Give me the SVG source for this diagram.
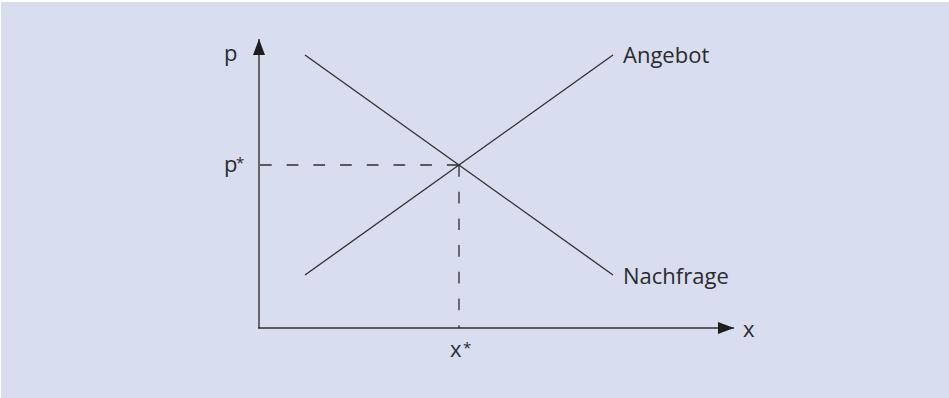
<svg xmlns="http://www.w3.org/2000/svg" width="949" height="398" viewBox="0 0 949 398">
<style>
.t{font-family:"Open Sans","Noto Sans","Liberation Sans",sans-serif;font-size:22px;fill:#2b2b2b}
.s{font-family:"Open Sans","Noto Sans","Liberation Sans",sans-serif;font-size:15px;fill:#2b2b2b}
.ln{stroke:#2f2f2f;stroke-width:1.3;fill:none}
.ds{stroke:#2f2f2f;stroke-width:1.3;fill:none;stroke-dasharray:11.7 15}
</style>
<defs>
<marker id="ah" viewBox="0 0 16 12" refX="16" refY="6" markerWidth="16" markerHeight="12" markerUnits="userSpaceOnUse" orient="auto">
<path d="M0,0 L16,6 L0,12 Z" fill="#1e1e1e"/>
</marker>
</defs>
<rect x="1" y="2" width="948" height="396" fill="#d9ddf0"/>
<g id="connectors">
<line id="y-axis" x1="259" y1="328" x2="259" y2="39" stroke="#666" stroke-width="2" marker-end="url(#ah)"/>
<line id="x-axis" x1="258" y1="328" x2="734" y2="328" class="ln" marker-end="url(#ah)"/>
<line id="demand" x1="305" y1="55" x2="613" y2="275" class="ln"/>
<line id="supply" x1="305" y1="275" x2="613" y2="55" class="ln"/>
<line id="p-star-line" x1="260" y1="165" x2="459" y2="165" class="ds"/>
<line id="x-star-line" x1="459" y1="165" x2="459" y2="328" class="ds"/>
</g>
<g id="label-p"><text class="t" x="224" y="61">p</text></g>
<g id="label-pstar"><text class="t" x="224" y="172">p</text><text class="s" x="236" y="168">*</text></g>
<g id="label-xstar"><text class="t" x="450" y="357">x</text><text class="s" x="463" y="353">*</text></g>
<g id="label-x"><text class="t" x="743" y="337">x</text></g>
<g id="label-angebot"><text class="t" x="623" y="63">Angebot</text></g>
<g id="label-nachfrage"><text class="t" x="623" y="284">Nachfrage</text></g>
</svg>
